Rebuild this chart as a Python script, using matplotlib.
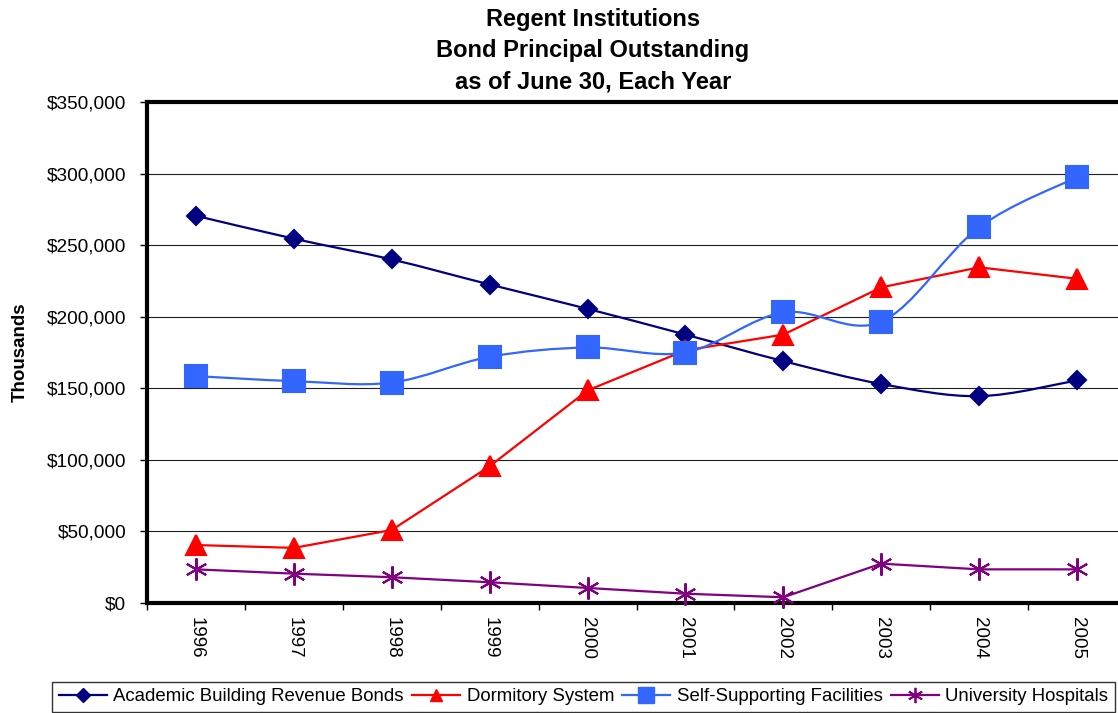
import matplotlib
matplotlib.use("Agg")
import matplotlib.pyplot as plt
from matplotlib.path import Path
from matplotlib.patches import PathPatch
from matplotlib.lines import Line2D
from matplotlib.ticker import FuncFormatter, MultipleLocator

plt.rcParams['font.family'] = ['Liberation Sans', 'DejaVu Sans']

years = ['1996', '1997', '1998', '1999', '2000', '2001', '2002', '2003', '2004', '2005']

# values in thousands of dollars
academic = [270500, 254500, 240000, 222500, 205500, 187500, 169000, 153000, 144500, 155500]
dormitory = [40500, 38500, 51000, 95500, 148500, 176500, 187500, 220500, 234500, 226500]
self_supporting = [158500, 155000, 154000, 172000, 178500, 175000, 203000, 196500, 262500, 297500]
hospitals = [23500, 20500, 18000, 14500, 10500, 6500, 4000, 27500, 23500, 23500]

series_names = ['Academic Building Revenue Bonds', 'Dormitory System',
                'Self-Supporting Facilities', 'University Hospitals']


def smooth_path(xs, ys):
    # Excel style smoothed line: cubic bezier through every point
    n = len(xs)
    verts = [(xs[0], ys[0])]
    codes = [Path.MOVETO]
    for i in range(n - 1):
        x0, y0 = (xs[i - 1], ys[i - 1]) if i > 0 else (xs[i], ys[i])
        x1, y1 = xs[i], ys[i]
        x2, y2 = xs[i + 1], ys[i + 1]
        x3, y3 = (xs[i + 2], ys[i + 2]) if i + 2 < n else (xs[i + 1], ys[i + 1])
        c1 = (x1 + (x2 - x0) / 6, y1 + (y2 - y0) / 6)
        c2 = (x2 - (x3 - x1) / 6, y2 - (y3 - y1) / 6)
        verts += [c1, c2, (x2, y2)]
        codes += [Path.CURVE4] * 3
    return Path(verts, codes)


fig = plt.figure(figsize=(11.18, 7.13), dpi=100)
ax = fig.add_axes([147 / 1118, 1 - 603 / 713, 979 / 1118, 501 / 713])

x = list(range(len(years)))
# values, colour, marker, marker size, smoothed
styles = [
    (academic, '#000080', 'D', 9.5, True),
    (dormitory, '#FF0000', '^', 15, False),
    (self_supporting, '#3366FF', 's', 16, True),
    (hospitals, '#800080', (6, 2, 0), 16, False),
]

for vals, col, mk, ms, smooth in styles:
    if smooth:
        ax.add_patch(PathPatch(smooth_path(x, vals), fill=False, edgecolor=col,
                               lw=1.6, zorder=3, clip_on=False))
    else:
        ax.plot(x, vals, color=col, lw=1.6, zorder=3, clip_on=False)
    ax.plot(x, vals, ls='none', marker=mk, ms=ms, mew=1.5, color=col,
            mec=col, zorder=4, clip_on=False)

ax.set_xlim(-0.5, 9.5)
ax.set_ylim(0, 350000)
ax.yaxis.set_major_locator(MultipleLocator(50000))
ax.yaxis.set_major_formatter(FuncFormatter(lambda v, p: '${:,.0f}'.format(v)))
ax.grid(axis='y', color='#202020', lw=0.8)
ax.set_axisbelow(True)

ax.set_xticks(x)
ax.set_xticklabels(years, rotation=270, fontsize=13.5)
ax.set_xticks([i - 0.5 for i in range(len(years) + 1)], minor=True)
ax.tick_params(axis='x', which='major', length=0, pad=10)
ax.tick_params(axis='x', which='minor', length=5, width=1, direction='out')
ax.tick_params(axis='y', length=5, width=1, direction='out', labelsize=13.7, pad=10)

for side in ['left', 'top', 'bottom']:
    ax.spines[side].set_linewidth(3)
ax.spines['right'].set_visible(False)

ax.set_ylabel('Thousands', fontsize=13.5, fontweight='bold', labelpad=13)

fig.text(593 / 1118, 1 - 51 / 713,
         'Regent Institutions\nBond Principal Outstanding\nas of June 30, Each Year',
         ha='center', va='center', fontsize=17, fontweight='bold', linespacing=1.45)

handles = [
    Line2D([], [], color='#000080', marker='D', ms=7, lw=1.6),
    Line2D([], [], color='#FF0000', marker='^', ms=9, lw=1.6),
    Line2D([], [], color='#3366FF', marker='s', ms=11, lw=1.6),
    Line2D([], [], color='#800080', marker=(6, 2, 0), ms=11, mew=1.3, lw=1.6),
]
leg = fig.legend(handles, series_names, ncol=4, loc='lower left',
                 bbox_to_anchor=(52 / 1118, 0.002), borderaxespad=0,
                 fontsize=13.4, frameon=True,
                 fancybox=False, edgecolor='black', handlelength=2.6,
                 handletextpad=0.35, columnspacing=0.42, borderpad=0.35)
leg.get_frame().set_linewidth(1)

fig.savefig('out.png', dpi=100)
